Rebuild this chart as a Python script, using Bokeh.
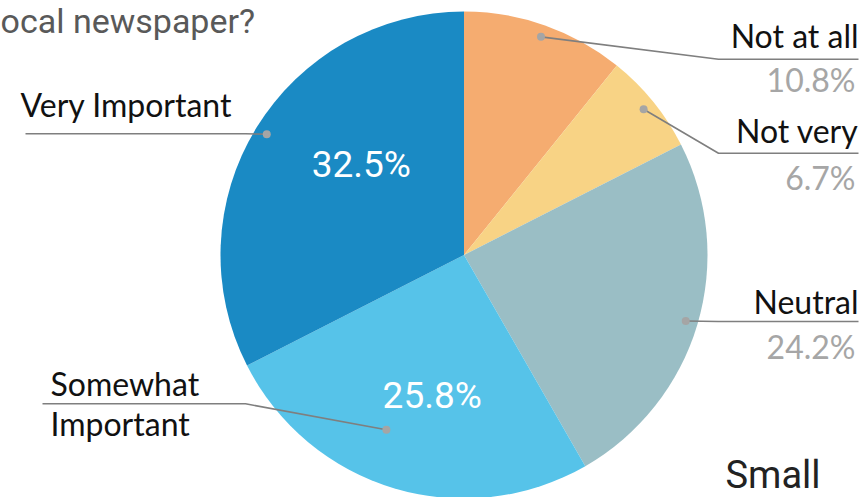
import math
from bokeh.plotting import figure
from bokeh.models import Range1d
from bokeh.core.properties import value
from bokeh.embed import file_html
from bokeh.resources import INLINE

# ---------------- data ----------------
categories = ["Not at all", "Not very", "Neutral", "Somewhat Important", "Very Important"]
shares = [10.8, 6.7, 24.2, 25.8, 32.5]
title_text = "ocal newspaper?"
corner_text = "Small"

# ---------------- styles / layout ----------------
colors = ["#F5AC70", "#F8D385", "#9ABEC5", "#56C3E9", "#1A8AC4"]
W, H = 861, 497


def Y(yp):
    return H - yp


CX, CY, R = 463.5, Y(254.5), 243.5
dot_r = [0.95, 0.95, 0.95, 0.785, 0.95]
dot_shift = [0.0, 0.0, 0.0, 7.4, 0.0]  # degrees, clockwise
# per slice: elbow x, line y, line end x, label x, pct x, align, label baselines, pct baseline
leader = [
    dict(ex=718, ly=58.7, end=858, tx=858, px=855, align="right", lb=[47], pb=91),
    dict(ex=718, ly=152.7, end=858, tx=858, px=855, align="right", lb=[142], pb=188.3),
    dict(ex=718, ly=321, end=858, tx=858, px=855, align="right", lb=[312.7], pb=357.3),
    dict(ex=245, ly=403.3, end=42, tx=50, px=None, align="left", lb=[395, 435], pb=None),
    dict(ex=245, ly=133.3, end=25, tx=20, px=None, align="left", lb=[116], pb=None),
]
inside = {3: (431.7, 408.3), 4: (360.8, 177.7)}
LAB_FS, IN_FS = 32, 37
SHIFT = 0.36  # baseline correction (fraction of font size)

p = figure(width=W, height=H, output_backend="svg", toolbar_location=None,
           x_range=Range1d(0, W), y_range=Range1d(0, H),
           x_axis_location=None, y_axis_location=None, min_border=0)
p.grid.visible = False
p.outline_line_color = None
p.background_fill_color = "white"
p.border_fill_color = "white"

total = sum(shares)
cum = 0.0
starts, ends, mids = [], [], []
for s in shares:
    c0 = cum / total
    cum += s
    c1 = cum / total
    starts.append(math.pi / 2 - 2 * math.pi * c0)
    ends.append(math.pi / 2 - 2 * math.pi * c1)
    mids.append(math.pi / 2 - math.pi * (c0 + c1))

p.wedge(x=[CX] * len(shares), y=[CY] * len(shares), radius=R,
        start_angle=starts, end_angle=ends, direction="clock",
        fill_color=colors, line_color=None)

LABEL_FONT = value("Lato")
for i, cat in enumerate(categories):
    a = mids[i] - math.radians(dot_shift[i])
    dx = CX + dot_r[i] * R * math.cos(a)
    dy = CY + dot_r[i] * R * math.sin(a)
    L = leader[i]
    p.line([dx, L["ex"], L["end"]], [dy, Y(L["ly"]), Y(L["ly"])],
           line_color="#7F7F7F", line_width=1.6)
    p.scatter([dx], [dy], size=8, fill_color="#A5A5A5", line_color=None)
    lines = cat.split(" ") if len(L["lb"]) > 1 else [cat]
    for txt, b in zip(lines, L["lb"]):
        p.text([L["tx"]], [Y(b - SHIFT * LAB_FS)], text=[txt], text_font=LABEL_FONT,
               text_font_size=f"{LAB_FS}px", text_color="#111111",
               text_align=L["align"], text_baseline="alphabetic")
    if L["pb"] is not None:
        p.text([L["px"]], [Y(L["pb"] - SHIFT * LAB_FS)], text=[f"{shares[i]:.1f}%"],
               text_font=LABEL_FONT, text_font_size=f"{LAB_FS}px", text_color="#A6A6A6",
               text_align=L["align"], text_baseline="alphabetic")
    if i in inside:
        ix, ib = inside[i]
        p.text([ix], [Y(ib - SHIFT * IN_FS)], text=[f"{shares[i]:.1f}%"],
               text_font=value("Roboto"), text_font_size=f"{IN_FS}px", text_color="white",
               text_align="center", text_baseline="alphabetic")

p.text([0], [Y(0)], text=[title_text], text_font=value("Roboto"),
       text_font_size="34px", text_color="#595959",
       text_align="left", text_baseline="top")
p.text([725], [Y(496)], text=[corner_text], text_font=value("Roboto"),
       text_font_size="38px", text_color="#222222",
       text_align="left", text_baseline="bottom")

open("out.html", "w").write(file_html(p, INLINE))
